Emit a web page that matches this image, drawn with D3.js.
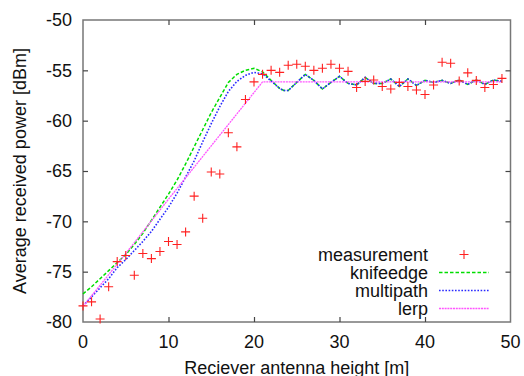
<!DOCTYPE html>
<html>
<head>
<meta charset="utf-8">
<script src="https://cdn.jsdelivr.net/npm/d3@7"></script>
<style>
  body { margin: 0; background: #fff; }
  svg { display: block; font-family: "Liberation Sans", Arial, sans-serif; }
</style>
</head>
<body>
<svg width="524" height="376"></svg>
<script>
// Measurement points (height in m, received power in dBm)
const measHeights = [0, 1, 2, 3, 4, 5, 6, 7, 8, 9, 10, 11, 12, 13, 14, 15, 16, 17, 18, 19,
    20, 21, 22, 23, 24, 25, 26, 27, 28, 29, 30, 31, 32, 33, 34, 35, 36, 37, 38, 39,
    40, 41, 42, 43, 44, 45, 46, 47, 48, 49];
const measValues = [-78.4, -78.0, -79.7, -76.5, -74.0, -73.4, -75.35, -73.2, -73.7, -73.0,
    -72.0, -72.3, -71.05, -67.5, -69.7, -65.1, -65.3, -61.2, -62.6, -57.9,
    -56.15, -55.4, -55.0, -55.2, -54.5, -54.4, -54.6, -55.0, -54.8, -54.4,
    -54.8, -55.1, -56.7, -56.1, -55.96, -56.6, -56.85, -56.2, -56.6, -56.95,
    -57.4, -56.45, -54.2, -54.3, -56.05, -55.25, -56.0, -56.7, -56.4, -55.8];

// Knife-edge model, rising part
const knifeHeights = [0, 1, 2, 3, 4, 5, 6, 7, 8, 9, 10, 11, 12, 13, 14, 15, 16, 17, 18, 19, 20, 21, 22];
const knifeValues = [-77.2, -76.5, -75.7, -74.9, -74.1, -73.3, -72.3, -71.2, -69.9, -68.6,
    -67.3, -65.9, -64.3, -62.6, -60.9, -59.2, -57.7, -56.2, -55.4, -55.0, -54.8, -55.15, -56.0];

// Multipath model, rising part
const multiHeights = [0, 1, 2, 3, 4, 5, 6, 7, 8, 9, 10, 11, 12, 13, 14, 15, 16, 17, 18, 19, 20, 21, 22];
const multiValues = [-78.4, -77.5, -76.6, -75.7, -74.6, -73.8, -72.9, -72.0, -71.0, -69.8,
    -68.6, -67.2, -65.6, -64.0, -62.1, -60.3, -58.6, -57.1, -56.1, -55.5, -55.2, -55.35, -56.05];

// Both models share the same ripple above 22 m
const rippleHeights = [23, 23.5, 24, 25, 26, 27, 28, 29, 30, 31, 32, 33, 34, 35, 36, 37, 38, 39,
    40, 41, 42, 43, 44, 45, 46, 47, 48, 49];
const rippleValues = [-56.8, -57.0, -57.0, -56.2, -55.4, -56.0, -56.85, -56.2, -55.6, -56.3,
    -56.45, -55.7, -56.3, -56.3, -55.86, -56.6, -55.86, -56.5, -56.0, -56.2,
    -56.0, -56.3, -55.96, -56.4, -55.96, -56.4, -55.96, -56.1];

// Linear interpolation model
const lerpHeights = [0, 5, 10, 15, 21, 49];
const lerpValues = [-78.45, -73.2, -67.8, -62.5, -56.15, -56.15];

// Axis ticks and legend
const xTicks = [0, 10, 20, 30, 40, 50];
const yTicks = [-80, -75, -70, -65, -60, -55, -50];
const legendLabels = ["measurement", "knifeedge", "multipath", "lerp"];

const svg = d3.select("svg"),
    margin = { top: 20, right: 13.5, bottom: 54, left: 83 },
    width = +svg.attr("width") - margin.left - margin.right,
    height = +svg.attr("height") - margin.top - margin.bottom;

const g = svg.append("g").attr("transform", `translate(${margin.left},${margin.top})`);

const x = d3.scaleLinear().domain([0, 50]).range([0, width]);
const y = d3.scaleLinear().domain([-80, -50]).range([height, 0]);

const zip = (hs, vs) => hs.map((h, i) => ({ h: h, v: vs[i] }));
const meas = zip(measHeights, measValues);
const knife = zip(knifeHeights, knifeValues).concat(zip(rippleHeights, rippleValues));
const multi = zip(multiHeights, multiValues).concat(zip(rippleHeights, rippleValues));
const lerp = zip(lerpHeights, lerpValues);

// Frame
g.append("rect")
    .attr("width", width)
    .attr("height", height)
    .attr("fill", "none")
    .attr("stroke", "#777")
    .attr("stroke-width", 1.5);

// Ticks on all four sides, pointing inwards
const tickLen = 5;
const inner = (sel) => sel.select(".domain").remove();
g.append("g").attr("transform", `translate(0,${height})`)
    .call(d3.axisBottom(x).tickValues(xTicks.slice(1, -1)).tickSizeInner(-tickLen).tickFormat(""))
    .call(inner);
g.append("g")
    .call(d3.axisTop(x).tickValues(xTicks.slice(1, -1)).tickSizeInner(-tickLen).tickFormat(""))
    .call(inner);
g.append("g")
    .call(d3.axisLeft(y).tickValues(yTicks.slice(1, -1)).tickSizeInner(-tickLen).tickFormat(""))
    .call(inner);
g.append("g").attr("transform", `translate(${width},0)`)
    .call(d3.axisRight(y).tickValues(yTicks.slice(1, -1)).tickSizeInner(-tickLen).tickFormat(""))
    .call(inner);
g.selectAll(".tick line").attr("stroke", "#444").attr("stroke-width", 1.2);

// Tick labels
g.selectAll(".xlab").data(xTicks).enter().append("text")
    .attr("x", d => x(d))
    .attr("y", height + 25.5)
    .attr("text-anchor", "middle")
    .attr("font-size", 18)
    .attr("fill", "#111")
    .text(d => d);

g.selectAll(".ylab").data(yTicks).enter().append("text")
    .attr("x", -11)
    .attr("y", d => y(d))
    .attr("dy", "0.35em")
    .attr("text-anchor", "end")
    .attr("font-size", 18)
    .attr("fill", "#111")
    .text(d => d);

// Axis titles
svg.append("text")
    .attr("x", margin.left + width / 2)
    .attr("y", 374)
    .attr("text-anchor", "middle")
    .attr("font-size", 18)
    .attr("fill", "#111")
    .text("Reciever antenna height [m]");

svg.append("text")
    .attr("transform", `translate(26,${margin.top + height / 2}) rotate(-90)`)
    .attr("text-anchor", "middle")
    .attr("font-size", 18)
    .attr("fill", "#111")
    .text("Average received power [dBm]");

// Model lines
const line = d3.line().x(d => x(d.h)).y(d => y(d.v));
const styles = [
    { data: knife, color: "#00dd00", dash: "3.5,2", w: 1.5 },
    { data: multi, color: "#2a2aff", dash: "1.6,1.6", w: 1.6 },
    { data: lerp, color: "#ff55ff", dash: "2,0.8", w: 1.3 }
];
styles.forEach(s => {
    g.append("path")
        .datum(s.data)
        .attr("fill", "none")
        .attr("stroke", s.color)
        .attr("stroke-width", s.w)
        .attr("stroke-dasharray", s.dash)
        .attr("d", line);
});

// Measurement crosses
const cross = d3.symbol().type(d3.symbolCross);
const plus = (cx, cy, r) => `M${cx - r},${cy}H${cx + r}M${cx},${cy - r}V${cy + r}`;
g.selectAll(".pt").data(meas).enter().append("path")
    .attr("d", d => plus(x(d.h), y(d.v), 4.5))
    .attr("stroke", "#ff2020")
    .attr("stroke-width", 1.1)
    .attr("fill", "none");

// Legend
const lx = 428 - margin.left, ly0 = 254.5 - margin.top, lstep = 18;
legendLabels.forEach((name, i) => {
    const ly = ly0 + i * lstep;
    g.append("text")
        .attr("x", lx)
        .attr("y", ly)
        .attr("dy", "0.35em")
        .attr("text-anchor", "end")
        .attr("font-size", 18)
        .attr("fill", "#111")
        .text(name);
    if (i === 0) {
        g.append("path")
            .attr("d", plus(464 - margin.left, ly, 4.5))
            .attr("stroke", "#ff2020")
            .attr("stroke-width", 1.1);
    } else {
        const s = styles[i - 1];
        g.append("line")
            .attr("x1", 439 - margin.left).attr("x2", 489 - margin.left)
            .attr("y1", ly).attr("y2", ly)
            .attr("stroke", s.color)
            .attr("stroke-width", s.w)
            .attr("stroke-dasharray", s.dash);
    }
});
</script>
</body>
</html>
